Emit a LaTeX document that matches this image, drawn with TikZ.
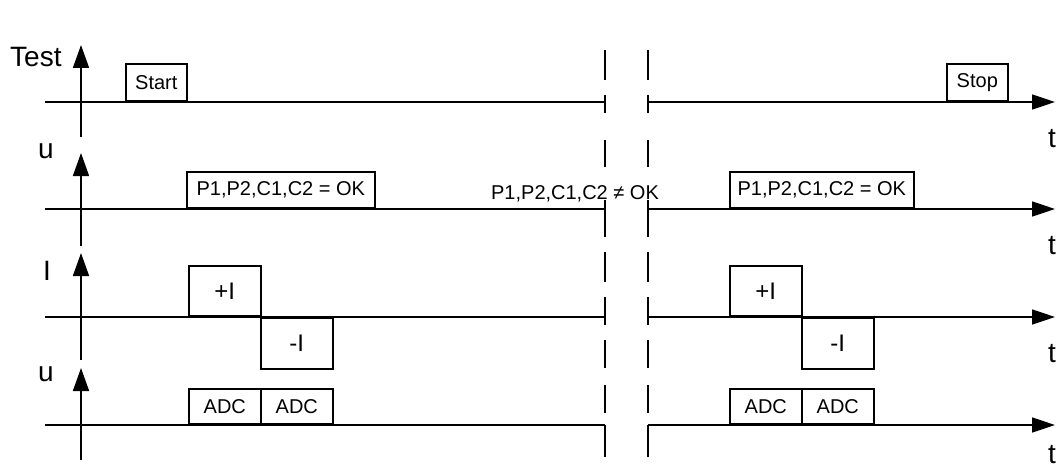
\documentclass[tikz,border=0pt]{standalone}
\usepackage{fontspec}
\setmainfont{Liberation Sans}
\usetikzlibrary{arrows.meta}
\begin{document}
\begin{tikzpicture}[x=1pt,y=-1pt,
  ln/.style={line width=1.6pt},
  vaxis/.style={line width=1.6pt,-{Triangle[length=23pt,width=16pt]}},
  haxis/.style={line width=1.6pt,-{Triangle[length=23pt,width=15pt]}},
  brk/.style={line width=1.6pt},
  box/.style={draw,line width=1.6pt,inner sep=0pt,font=\fontsize{20}{24}\selectfont},
  pmbox/.style={box,font=\fontsize{24}{28}\selectfont},
  txt/.style={inner sep=0pt,font=\fontsize{20}{24}\selectfont},
  lab/.style={inner sep=0pt,anchor=base west,font=\fontsize{28}{32}\selectfont}]
\useasboundingbox (0,0) rectangle (1057,468);

% time axes (horizontal), with a break
\foreach \n/\y in {1/102,2/209,3/317,4/425}{
  \coordinate (L\n) at (45,\y);
  \coordinate (Bl\n) at (605,\y);
  \coordinate (Br\n) at (648,\y);
  \coordinate (R\n) at (1055,\y);
  \draw[ln] (L\n) -- (Bl\n);
  \draw[haxis] (Br\n) -- (R\n);
}

% vertical axes
\foreach \n/\b/\t in {1/137/45,2/246/153,3/360/253,4/460/368}{
  \coordinate (Vb\n) at (81,\b);
  \coordinate (Vt\n) at (81,\t);
  \draw[vaxis] (Vb\n) -- (Vt\n);
}

% break marks (dashed verticals)
\foreach \a/\b in {50/80,95/113,140/167,200/237,252/282,297/325,340/368,385/413,425/457}{
  \draw[brk] (605,\a) -- (605,\b);
  \draw[brk] (648,\a) -- (648,\b);
}

% axis labels
\node[lab] (test) at (10,67) {Test};
\node[lab] (u1) at (38,158) {u};
\node[lab] (i1) at (43,280) {I};
\node[lab] (u2) at (38,381) {u};
\node[lab] (t1) at (1048,147) {t};
\node[lab] (t2) at (1048,254) {t};
\node[lab] (t3) at (1048,362) {t};
\node[lab] (t4) at (1048,463) {t};

% panel 1
\node[box,anchor=south west,minimum width=61,minimum height=37] (start) at (125,102) {Start};
\node[box,anchor=south west,minimum width=61,minimum height=37] (stop) at (946,102) {Stop};

% panel 2
\node[box,anchor=south west,minimum width=188,minimum height=36] (ok1) at (186,209) {P1,P2,C1,C2 = OK};
\node[txt,anchor=base] (nok) at (575,199) {P1,P2,C1,C2 ≠ OK};
\node[box,anchor=south west,minimum width=184,minimum height=36] (ok2) at (729,209) {P1,P2,C1,C2 = OK};

% panel 3
\node[pmbox,anchor=south west,minimum width=72,minimum height=50] (pi1) at (188,317) {+I};
\node[pmbox,anchor=north west,minimum width=72,minimum height=51] (mi1) at (260,317) {-I};
\node[pmbox,anchor=south west,minimum width=72,minimum height=50] (pi2) at (729,317) {+I};
\node[pmbox,anchor=north west,minimum width=72,minimum height=51] (mi2) at (801,317) {-I};

% panel 4
\node[box,anchor=south west,minimum width=72,minimum height=35] (adc1) at (188,425) {ADC};
\node[box,anchor=south west,minimum width=72,minimum height=35] (adc2) at (260,425) {ADC};
\node[box,anchor=south west,minimum width=72,minimum height=35] (adc3) at (729,425) {ADC};
\node[box,anchor=south west,minimum width=72,minimum height=35] (adc4) at (801,425) {ADC};
\end{tikzpicture}
\end{document}
